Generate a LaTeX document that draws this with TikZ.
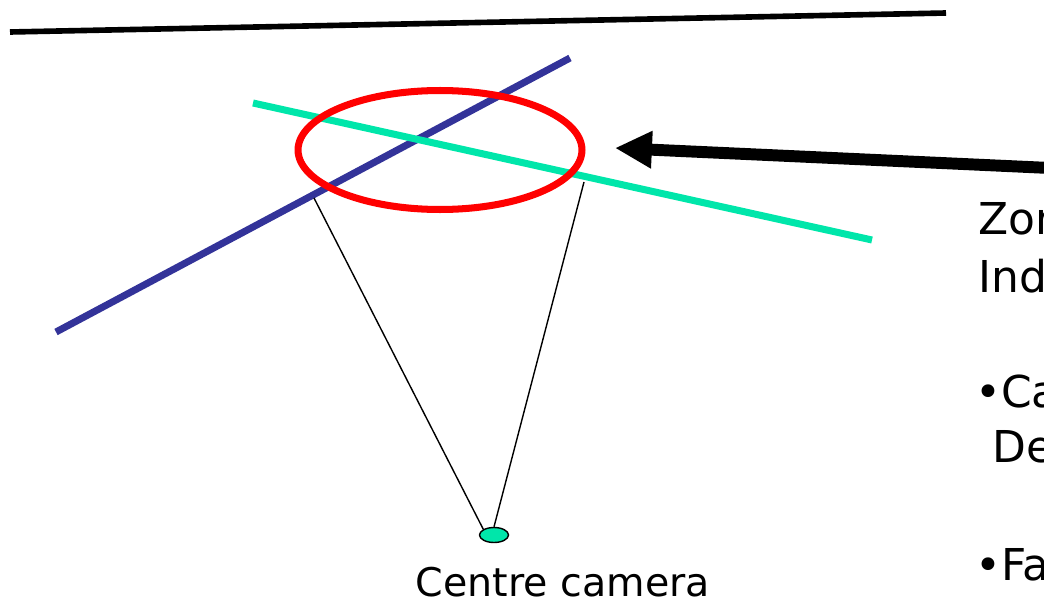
\documentclass[tikz,border=0pt]{standalone}
\usepackage{fontspec}
\setmainfont{DejaVu Sans}
\usetikzlibrary{positioning,shapes.geometric,arrows.meta}

\definecolor{droiteA}{RGB}{51,51,153}
\definecolor{droiteB}{RGB}{0,230,170}

\tikzset{
    droite/.style={line width=4pt},
    rayon/.style={line width=0.8pt},
    txt/.style={font=\fontsize{25}{30}\selectfont, inner sep=0pt, anchor=base west},
}

\begin{document}
\begin{tikzpicture}[x=0.02cm, y=-0.02cm]
    \useasboundingbox (0,0) rectangle (1044,608);

    % horizon
    \coordinate (h1) at (10,32);
    \coordinate (h2) at (946,13);
    \draw[line width=3.2pt] (h1) -- (h2);

    % deux droites
    \coordinate (b1) at (56,332);
    \coordinate (b2) at (570,58);
    \coordinate (g1) at (253,103);
    \coordinate (g2) at (872,240);
    \draw[droite, droiteA] (b1) -- (b2);
    \draw[droite, droiteB] (g1) -- (g2);

    % zone
    \node[ellipse, draw=red, line width=4pt, inner sep=0pt,
          minimum width=5.68cm, minimum height=2.38cm] (zone) at (440,150) {};

    % camera
    \node[ellipse, draw, fill=droiteB, line width=0.8pt, minimum width=0.58cm,
          minimum height=0.3cm, inner sep=0pt] (cam) at (494,535) {};
    \coordinate (r1) at (314,198);
    \coordinate (r2) at (584,182);
    \draw[rayon] (r1) -- (cam.north west);
    \draw[rayon] (r2) -- (cam.north);

    \node[txt, font=\fontsize{22.5}{27}\selectfont, anchor=base] (lbl) at (563,596) {Centre camera};

    % fleche
    \coordinate (f1) at (1050,168);
    \coordinate (f2) at (615,148);
    \draw[line width=6.8pt, -{Triangle[length=21pt, width=20pt]}] (f1) -- (f2);

    % texte a droite
    \node[txt] (t1) at (978,234) {Zon};
    \node[txt] (t2) at (978,292) {Ind};
    \node[txt] (t3) at (975,407) {•Ca};
    \node[txt] (t4) at (992,462) {De};
    \node[txt] (t5) at (975,580) {•Fa};
\end{tikzpicture}
\end{document}
